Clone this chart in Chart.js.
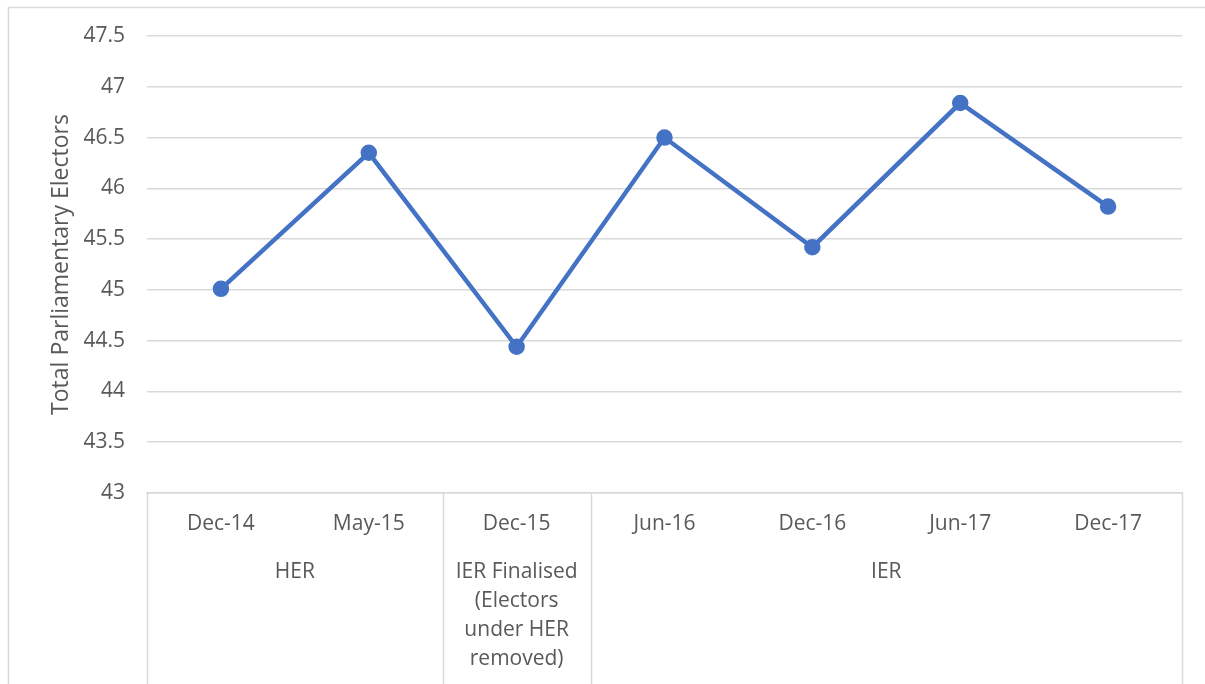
<!DOCTYPE html>
<html>
<head>
<meta charset="utf-8">
<script src="https://cdn.jsdelivr.net/npm/chart.js@4"></script>
<style>
  html, body { margin: 0; padding: 0; background: #fff; }
  #wrap { width: 1205px; height: 684px; position: relative; }
</style>
</head>
<body>
<div id="wrap"><canvas id="chart" width="1205" height="684"></canvas></div>
<script>
const categories = ['Dec-14', 'May-15', 'Dec-15', 'Jun-16', 'Dec-16', 'Jun-17', 'Dec-17'];
const electors = [45.01, 46.35, 44.44, 46.50, 45.42, 46.84, 45.82];
const groupLabels = [['HER'], ['IER Finalised', '(Electors', 'under HER', 'removed)'], ['IER']];
const groupStart = [0, 2, 3];
const groupEnd = [1, 2, 6];

const gridColor = '#d9d9d9';
const textColor = '#595959';
const fontFamily = '"Open Sans", sans-serif';

// draws the second level of category labels and the box lines under the axis
const groupAxis = {
    id: 'groupAxis',
    beforeDraw(chart) {
        const ctx = chart.ctx;
        ctx.save();
        ctx.strokeStyle = gridColor;
        ctx.lineWidth = 1.5;
        ctx.beginPath();
        ctx.moveTo(8.5, chart.height);
        ctx.lineTo(8.5, 7.5);
        ctx.lineTo(chart.width, 7.5);
        ctx.stroke();
        ctx.restore();
    },
    afterDraw(chart) {
        const ctx = chart.ctx;
        const x = chart.scales.x;
        const half = (x.getPixelForValue(1) - x.getPixelForValue(0)) / 2;
        const top = chart.chartArea.bottom;
        ctx.save();
        ctx.strokeStyle = gridColor;
        ctx.lineWidth = 1.5;
        const edges = [groupStart[0]].concat(groupEnd.map(e => e + 1));
        edges.forEach(i => {
            const px = Math.round(x.getPixelForValue(i) - half) + 0.5;
            ctx.beginPath();
            ctx.moveTo(px, top);
            ctx.lineTo(px, chart.height);
            ctx.stroke();
        });
        ctx.fillStyle = textColor;
        ctx.font = '21px ' + fontFamily;
        ctx.textAlign = 'center';
        ctx.textBaseline = 'middle';
        groupLabels.forEach((lines, g) => {
            const cx = (x.getPixelForValue(groupStart[g]) + x.getPixelForValue(groupEnd[g])) / 2;
            lines.forEach((line, k) => {
                ctx.fillText(line, cx, top + 79 + k * 29);
            });
        });
        ctx.restore();
    }
};

new Chart(document.getElementById('chart'), {
    type: 'line',
    data: {
        labels: categories,
        datasets: [{
            data: electors,
            borderColor: '#4472c4',
            backgroundColor: '#4472c4',
            borderWidth: 4.5,
            pointRadius: 6,
            pointHoverRadius: 6,
            tension: 0
        }]
    },
    options: {
        responsive: false,
        animation: false,
        layout: { padding: { top: 36, right: 23, left: 0, bottom: 0 } },
        plugins: { legend: { display: false }, tooltip: { enabled: false } },
        scales: {
            x: {
                offset: true,
                grid: { display: false, drawTicks: false },
                border: { display: true, color: gridColor, width: 1.5 },
                ticks: { color: textColor, font: { family: fontFamily, size: 21 }, padding: 18, maxRotation: 0 },
                afterFit(scale) { scale.height = 191; }
            },
            y: {
                min: 43,
                max: 47.5,
                grid: { color: gridColor, lineWidth: 1.5, drawTicks: false },
                border: { display: false },
                ticks: {
                    stepSize: 0.5,
                    color: textColor,
                    font: { family: fontFamily, size: 21 },
                    padding: 22,
                    callback: v => String(v)
                },
                title: {
                    display: true,
                    text: 'Total Parliamentary Electors',
                    color: textColor,
                    font: { family: fontFamily, size: 23 },
                    padding: { top: 48, bottom: 0 }
                },
                afterFit(scale) { scale.width = 147; }
            }
        }
    },
    plugins: [groupAxis]
});
</script>
</body>
</html>
